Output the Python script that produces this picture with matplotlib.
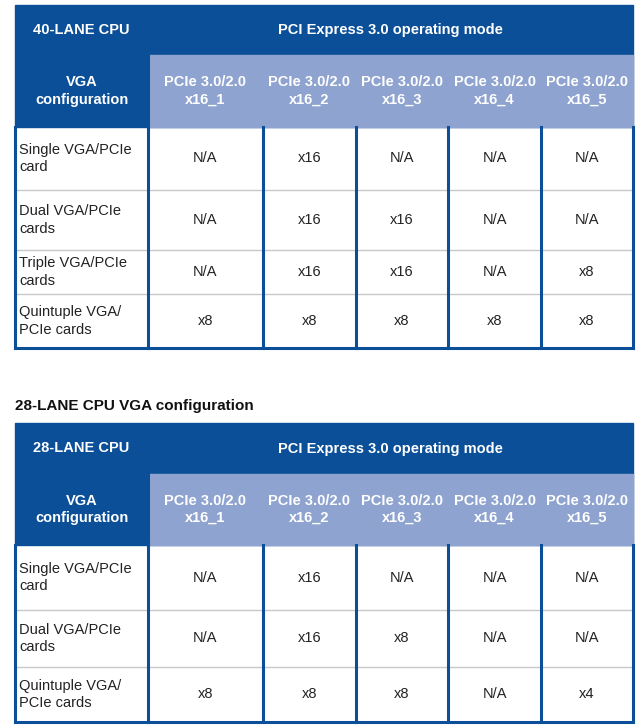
import matplotlib
matplotlib.use("Agg")
import matplotlib.pyplot as plt
from matplotlib.patches import Rectangle

slots = ["PCIe 3.0/2.0\nx16_1", "PCIe 3.0/2.0\nx16_2", "PCIe 3.0/2.0\nx16_3",
         "PCIe 3.0/2.0\nx16_4", "PCIe 3.0/2.0\nx16_5"]
rows40 = ["Single VGA/PCIe\ncard", "Dual VGA/PCIe\ncards", "Triple VGA/PCIe\ncards", "Quintuple VGA/\nPCIe cards"]
vals40 = [["N/A", "x16", "N/A", "N/A", "N/A"],
          ["N/A", "x16", "x16", "N/A", "N/A"],
          ["N/A", "x16", "x16", "N/A", "x8"],
          ["x8", "x8", "x8", "x8", "x8"]]
rows28 = ["Single VGA/PCIe\ncard", "Dual VGA/PCIe\ncards", "Quintuple VGA/\nPCIe cards"]
vals28 = [["N/A", "x16", "N/A", "N/A", "N/A"],
          ["N/A", "x16", "x8", "N/A", "N/A"],
          ["x8", "x8", "x8", "N/A", "x4"]]

DARK = "#0b4f98"
LIGHT = "#8ea3cf"
GRID = "#c8c8c8"
cols = [15, 148, 263, 356, 448, 541, 633]

fig = plt.figure(figsize=(6.4, 7.28), dpi=100)
ax = fig.add_axes([0, 0, 1, 1])
ax.set_xlim(0, 640)
ax.set_ylim(728, 0)
ax.axis("off")
font = "Liberation Sans"

def table(top, h1, h2, rowb, cpu, rows, vals):
    ax.add_patch(Rectangle((cols[0], top), cols[-1]-cols[0], h2-top, color=DARK, zorder=1))
    ax.add_patch(Rectangle((cols[1], h1), cols[-1]-cols[1], h2-h1, color=LIGHT, zorder=2))
    ax.text((cols[0]+cols[1])/2, (top+h1)/2, cpu, color="white", fontsize=10.5,
            fontweight="bold", ha="center", va="center", family=font)
    ax.text((cols[1]+cols[-1])/2, (top+h1)/2, "PCI Express 3.0 operating mode", color="white",
            fontsize=10.5, fontweight="bold", ha="center", va="center", family=font)
    ax.text((cols[0]+cols[1])/2, (h1+h2)/2, "VGA\nconfiguration", color="white", fontsize=10.5,
            fontweight="bold", ha="center", va="center", family=font, linespacing=1.3)
    for j, s in enumerate(slots):
        ax.text((cols[j+1]+cols[j+2])/2, (h1+h2)/2, s, color="white", fontsize=10.5,
                fontweight="bold", ha="center", va="center", family=font, linespacing=1.3)
    bounds = [h2] + rowb
    for i, r in enumerate(rows):
        yc = (bounds[i]+bounds[i+1])/2
        ax.text(cols[0]+4, yc, r, fontsize=10.5, ha="left", va="center", family=font,
                color="#222222", linespacing=1.3)
        for j, v in enumerate(vals[i]):
            ax.text((cols[j+1]+cols[j+2])/2, yc, v, fontsize=10.5, ha="center", va="center",
                    family=font, color="#222222")
    for b in rowb[:-1]:
        ax.plot([cols[0], cols[-1]], [b, b], color=GRID, lw=1, zorder=3)
    for c in cols:
        ax.plot([c, c], [h2, bounds[-1]], color=DARK, lw=2.2, zorder=4)
    ax.plot([cols[0], cols[-1]], [bounds[-1], bounds[-1]], color=DARK, lw=2.2, zorder=4)
    ax.plot([cols[1], cols[1]], [h1, h2], color=DARK, lw=2.2, zorder=4)

table(5, 55, 127, [190, 250, 294, 348], "40-LANE CPU", rows40, vals40)
ax.text(15, 406, "28-LANE CPU VGA configuration", fontsize=11, fontweight="bold",
        ha="left", va="center", family=font, color="#111111")
table(423, 474, 545, [610, 667, 722], "28-LANE CPU", rows28, vals28)

fig.savefig("out.png", dpi=100)
